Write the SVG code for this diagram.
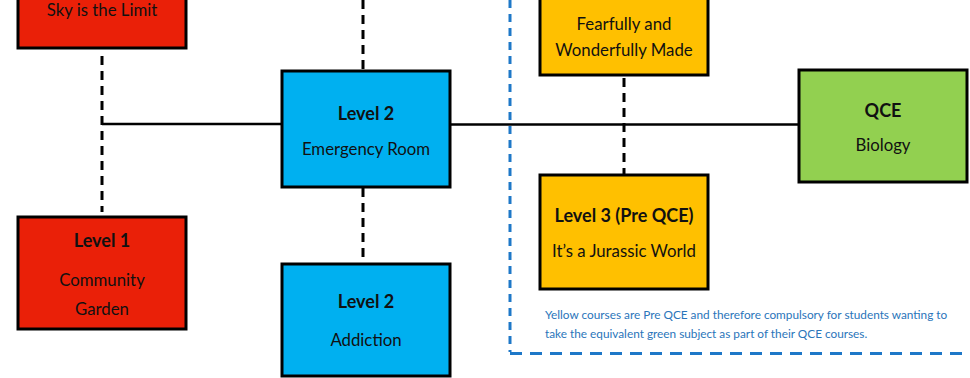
<svg xmlns="http://www.w3.org/2000/svg" width="970" height="378" viewBox="0 0 970 378">
<style>
.box{stroke:#000;stroke-width:3}
.red{fill:#EA2008}.blue{fill:#00B0F0}.yel{fill:#FFC000}.grn{fill:#92D050}
text{font-family:Lato,"Open Sans","Liberation Sans",sans-serif;fill:#111;text-anchor:middle}
.t{font-size:18px;font-weight:700}
.s{font-size:16.8px}
.note{font-size:11.8px;fill:#2A75BA;text-anchor:start}
.solid{stroke:#000;stroke-width:2.5;fill:none}
.dash{stroke:#000;stroke-width:3;stroke-dasharray:9 6;fill:none}
.bdash{stroke:#1E78C8;stroke-width:3;fill:none}
</style>
<rect width="970" height="378" fill="#fff"/>
<g id="connectors">
<path class="dash" d="M102 56V212"/>
<path class="solid" d="M102 124H282"/>
<path class="dash" d="M363 0V70"/>
<path class="dash" d="M363 188V262"/>
<path class="solid" d="M450 124.5H799"/>
<path class="dash" d="M624 78V174"/>
</g>
<g id="region">
<path class="bdash" d="M510 0V352" stroke-dasharray="8 6"/>
<path class="bdash" d="M510 353.5H970" stroke-dasharray="12 8"/>
</g>
<g id="sky"><rect class="box red" x="18" y="-10" width="168" height="58"/>
<text class="s" x="102" y="16">Sky is the Limit</text></g>
<g id="er"><rect class="box blue" x="282" y="71" width="168" height="116"/>
<text class="t" x="366" y="120">Level 2</text><text class="s" x="366" y="155">Emergency Room</text></g>
<g id="l1"><rect class="box red" x="18" y="217" width="168" height="112"/>
<text class="t" x="102" y="247">Level 1</text><text class="s" x="102" y="286">Community</text><text class="s" x="102" y="315">Garden</text></g>
<g id="add"><rect class="box blue" x="282" y="264" width="168" height="112"/>
<text class="t" x="366" y="308">Level 2</text><text class="s" x="366" y="346">Addiction</text></g>
<g id="fw"><rect class="box yel" x="540" y="-10" width="168" height="85"/>
<text class="s" x="624" y="30">Fearfully and</text><text class="s" x="624" y="56">Wonderfully Made</text></g>
<g id="jw"><rect class="box yel" x="540" y="175" width="168" height="114"/>
<text class="t" x="624" y="222">Level 3 (Pre QCE)</text><text class="s" x="624" y="257">It’s a Jurassic World</text></g>
<g id="qce"><rect class="box grn" x="799" y="70" width="168" height="112"/>
<text class="t" x="883" y="117">QCE</text><text class="s" x="883" y="151">Biology</text></g>
<g id="note">
<text class="note" x="545" y="319">Yellow courses are Pre QCE and therefore compulsory for students wanting to</text>
<text class="note" x="545" y="338">take the equivalent green subject as part of their QCE courses.</text>
</g>
</svg>
